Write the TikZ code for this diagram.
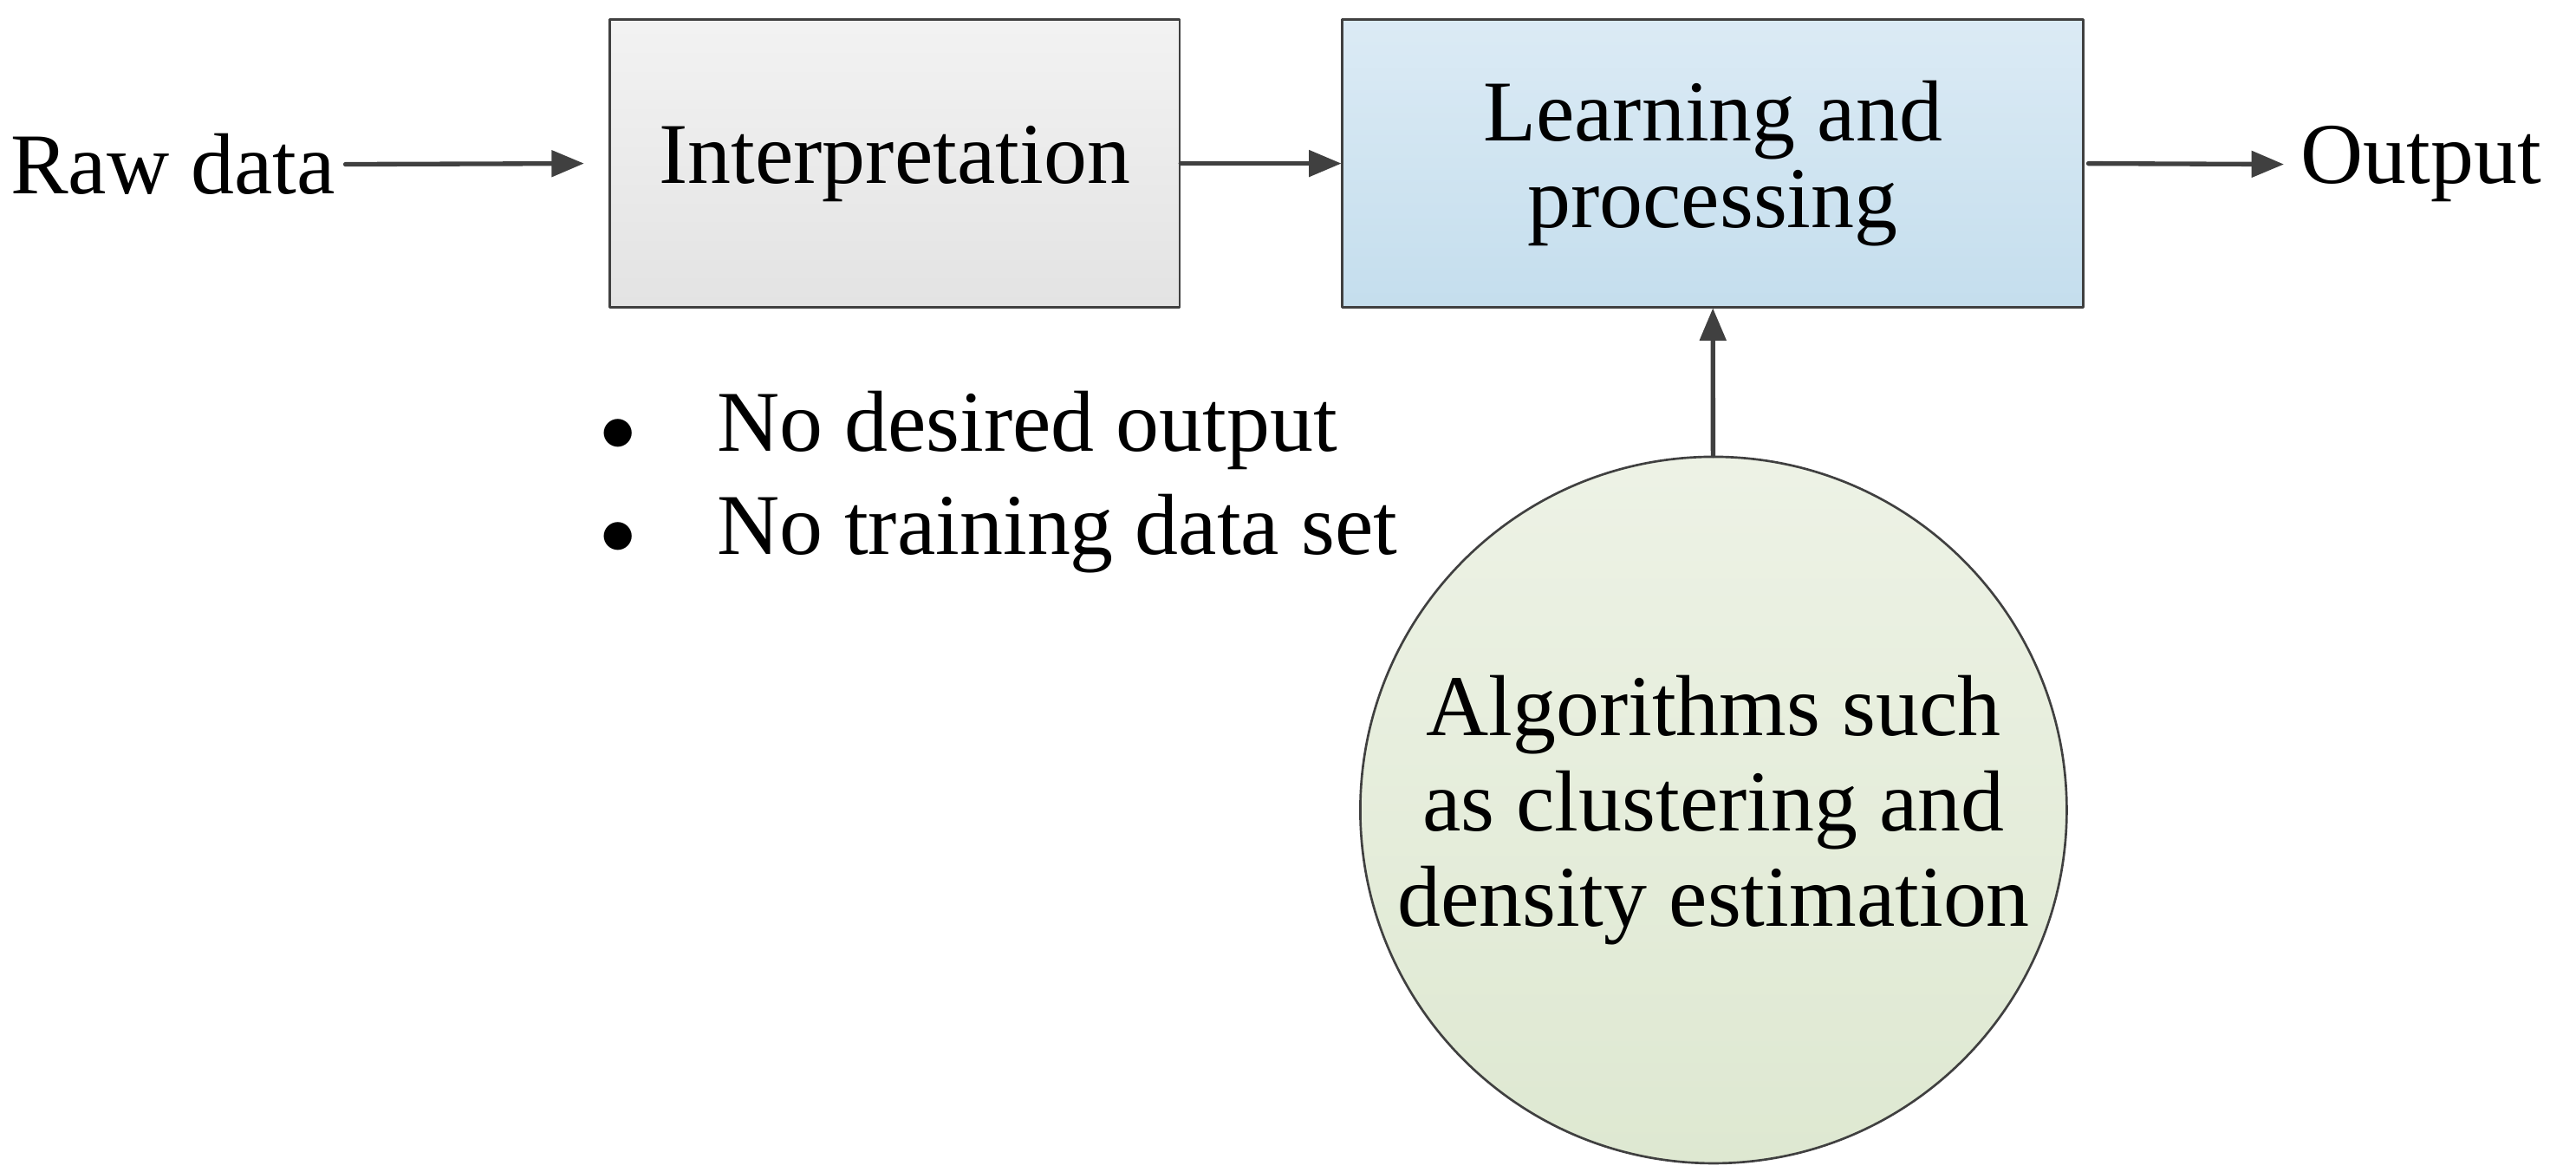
\documentclass[tikz,border=0pt]{standalone}
\usepackage{fontspec}
\setmainfont{Liberation Serif}
\usetikzlibrary{arrows,positioning}
\definecolor{ggrey}{rgb}{0.25,0.25,0.25}
\definecolor{boxtop}{rgb}{0.95,0.95,0.95}
\definecolor{boxbot}{rgb}{0.89,0.89,0.89}
\definecolor{bluetop}{rgb}{0.86,0.92,0.96}
\definecolor{bluebot}{rgb}{0.77,0.87,0.93}
\definecolor{greentop}{rgb}{0.93,0.95,0.90}
\definecolor{greenbot}{rgb}{0.87,0.91,0.82}
\tikzset{
  txt/.style={font=\fontsize{30}{36}\selectfont},
  blk/.style={txt,draw=ggrey,line width=0.8pt,align=center,inner sep=0pt},
  conn/.style={->,color=ggrey,line width=1.6pt}
}
\begin{document}
\begin{tikzpicture}[line cap=round,line join=round,>=triangle 45,x=0.02cm,y=-0.02cm]
\useasboundingbox (0,0) rectangle (1568,713);
\node[blk,top color=boxtop,bottom color=boxbot,minimum width=347*0.02cm,minimum height=175*0.02cm] (interp) at (544.5,99.5) {Interpretation};
\node[blk,top color=bluetop,bottom color=bluebot,minimum width=451*0.02cm,minimum height=175*0.02cm] (learn) at (1042.5,99.5) {Learning and\\[-6pt]processing};
\node[txt,anchor=west,inner sep=0pt] (raw) at (6,100) {Raw data};
\node[txt,anchor=west,inner sep=0pt] (out) at (1400,100) {Output};
\node[blk,circle,top color=greentop,bottom color=greenbot,minimum size=430*0.02cm,font=\fontsize{30}{33}\selectfont] (algo) at (1043,493) {Algorithms such\\as clustering and\\density estimation};
\node[txt,anchor=west,inner sep=0pt] (b1) at (365,262) {$\bullet$\hspace{28pt}No desired output};
\node[txt,anchor=west,inner sep=0pt] (b2) at (365,325) {$\bullet$\hspace{28pt}No training data set};
\draw[conn] (raw.east)+(6,0) -- ([xshift=-0.3cm]interp.west);
\draw[conn] (interp) -- (learn);
\draw[conn] ([xshift=0.05cm]learn.east) -- ([xshift=-0.2cm]out.west);
\draw[conn] (algo) -- (learn);
\end{tikzpicture}
\end{document}
